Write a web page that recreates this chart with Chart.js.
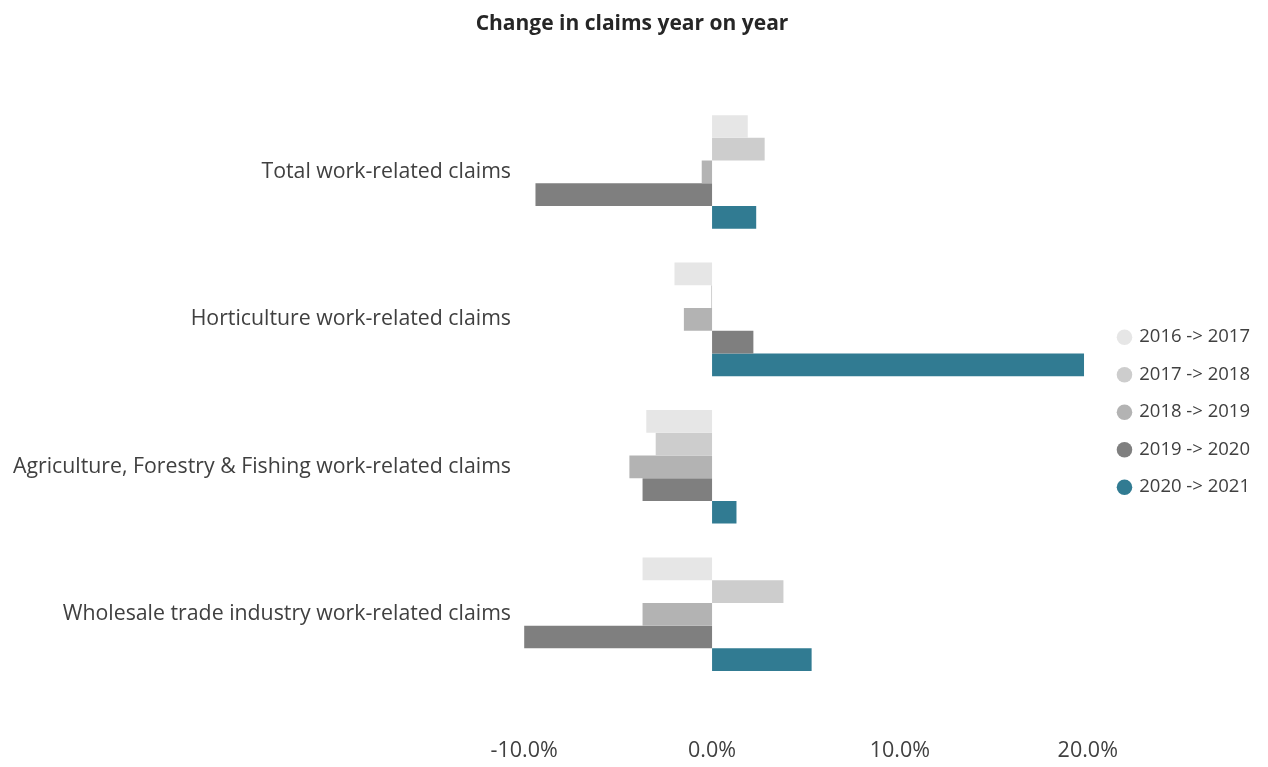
<!DOCTYPE html>
<html>
<head>
<meta charset="utf-8">
<title>Change in claims year on year</title>
<script src="https://cdn.jsdelivr.net/npm/chart.js@4/dist/chart.umd.min.js"></script>
<style>
  html, body { margin: 0; padding: 0; background: #ffffff; }
  #wrap { width: 1268px; height: 767px; }
</style>
</head>
<body>
<div id="wrap"><canvas id="chart" width="1268" height="767"></canvas></div>
<script>
let categories = [
    'Total work-related claims',
    'Horticulture work-related claims',
    'Agriculture, Forestry & Fishing work-related claims',
    'Wholesale trade industry work-related claims'
]
let periods = ['2016 -> 2017', '2017 -> 2018', '2018 -> 2019', '2019 -> 2020', '2020 -> 2021']

// percent change per category, one array per period
let change_2016_2017 = [1.9, -2.0, -3.5, -3.7]
let change_2017_2018 = [2.8, -0.05, -3.0, 3.8]
let change_2018_2019 = [-0.55, -1.5, -4.4, -3.7]
let change_2019_2020 = [-9.4, 2.2, -3.7, -10.0]
let change_2020_2021 = [2.35, 19.8, 1.3, 5.3]

let x_ticks = [-10, 0, 10, 20]
let colors = ['#e6e6e6', '#cdcdcd', '#b3b3b3', '#7f7f7f', '#317b92']

let series = [change_2016_2017, change_2017_2018, change_2018_2019, change_2019_2020, change_2020_2021]
let font_family = '"Open Sans", sans-serif'
let text_color = '#404040'

let datasets = series.map((values, i) => ({
    label: periods[i],
    data: values,
    backgroundColor: colors[i],
    borderWidth: 0,
    categoryPercentage: 0.77,
    barPercentage: 1.0
}))

let chart = new Chart(document.getElementById('chart').getContext('2d'), {
    type: 'bar',
    data: {
        labels: categories,
        datasets
    },
    options: {
        indexAxis: 'y',
        responsive: false,
        animation: false,
        layout: {
            padding: { left: 4, right: 8, top: 8, bottom: 5 }
        },
        plugins: {
            title: {
                display: true,
                text: 'Change in claims year on year',
                color: '#262626',
                font: { family: font_family, size: 21, weight: 'bold' },
                padding: { top: 3, bottom: 62 }
            },
            legend: {
                position: 'right',
                align: 'center',
                // empty title only pushes the legend items a little lower
                title: {
                    display: true,
                    text: ' ',
                    font: { size: 2 },
                    padding: { top: 26, bottom: 26 }
                },
                labels: {
                    usePointStyle: true,
                    pointStyle: 'circle',
                    boxWidth: 11,
                    boxHeight: 11,
                    padding: 19,
                    color: text_color,
                    font: { family: font_family, size: 18.5 }
                }
            },
            tooltip: { enabled: false }
        },
        scales: {
            x: {
                min: -10.33,
                max: 20.65,
                grid: { display: false, drawTicks: false },
                border: { display: false },
                afterBuildTicks: (scale) => {
                    scale.ticks = x_ticks.map(v => ({ value: v }))
                },
                afterFit: (scale) => {
                    scale.height = 74
                },
                ticks: {
                    padding: 50,
                    maxRotation: 0,
                    minRotation: 0,
                    color: text_color,
                    font: { family: font_family, size: 21.5 },
                    callback: (v) => `${Number(v).toFixed(1)}%`
                }
            },
            y: {
                grid: { display: false, drawTicks: false },
                border: { display: false },
                afterFit: (scale) => {
                    scale.width = 514
                },
                ticks: {
                    padding: 7,
                    color: text_color,
                    font: { family: font_family, size: 21.3 }
                }
            }
        }
    }
})
</script>
</body>
</html>
